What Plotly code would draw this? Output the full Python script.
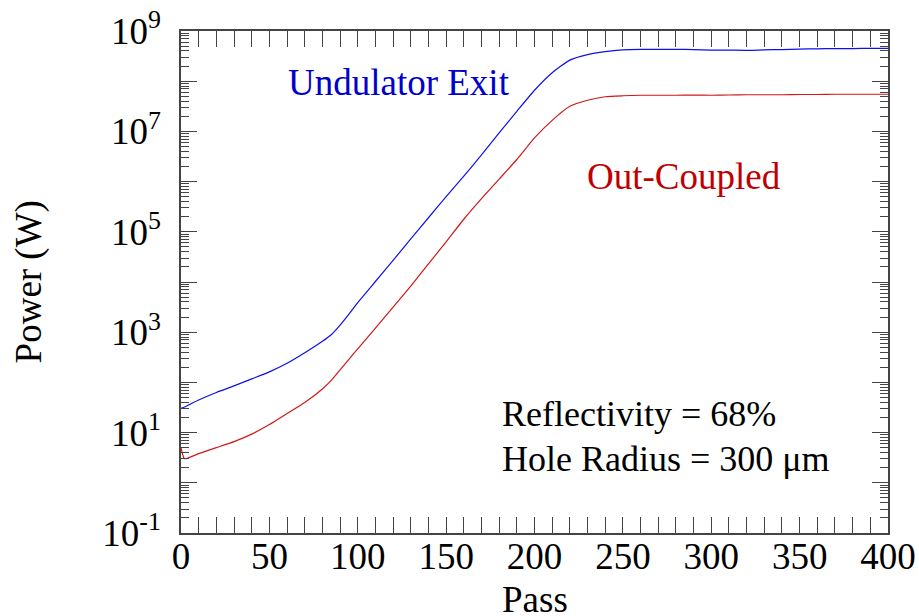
import plotly.graph_objects as go

# Pass numbers at which the power was sampled
passes = [0, 2, 10, 20, 30, 40, 50, 60, 70, 80, 85, 90, 95, 100, 110, 120, 130,
          140, 150, 160, 170, 180, 190, 200, 210, 220, 230, 240, 250, 260, 270,
          280, 290, 300, 310, 320, 330, 340, 350, 360, 370, 380, 390, 400]

# log10 of power (W) at the undulator exit
exit_log10 = [1.48, 1.51, 1.65, 1.80, 1.93, 2.07, 2.21, 2.38, 2.59, 2.82, 2.95,
              3.14, 3.36, 3.59, 4.01, 4.43, 4.86, 5.28, 5.70, 6.11, 6.53, 6.97,
              7.40, 7.82, 8.17, 8.42, 8.53, 8.59, 8.625, 8.635, 8.635, 8.635,
              8.63, 8.62, 8.62, 8.615, 8.625, 8.63, 8.64, 8.645, 8.65, 8.65,
              8.655, 8.655]

# log10 of out-coupled power (W)
out_log10 = [0.70, 0.48, 0.58, 0.70, 0.82, 0.97, 1.16, 1.38, 1.60, 1.87, 2.04,
             2.25, 2.46, 2.67, 3.08, 3.50, 3.92, 4.36, 4.80, 5.25, 5.66, 6.05,
             6.44, 6.87, 7.22, 7.50, 7.62, 7.69, 7.71, 7.72, 7.72, 7.72, 7.725,
             7.72, 7.725, 7.73, 7.73, 7.73, 7.735, 7.735, 7.74, 7.74, 7.74, 7.74]

exit_power = [10 ** v for v in exit_log10]
out_power = [10 ** v for v in out_log10]

# Odd decades carry a label, even decades only a long tick
labelled = [-1, 1, 3, 5, 7, 9]
unlabelled = [0, 2, 4, 6, 8]
y_tickvals = [10.0 ** k for k in labelled]
y_ticktext = [f"10<sup>{k}</sup>" for k in labelled]
y_plain_ticks = [10.0 ** k for k in unlabelled]
y_minor = [m * 10.0 ** k for k in range(-1, 9) for m in range(2, 10)]

FONT = "Liberation Serif, Times New Roman, serif"
AXIS_COLOR = "#444444"

fig = go.Figure()
fig.add_trace(go.Scatter(x=passes, y=exit_power, mode="lines",
                         line=dict(color="#1010e8", width=1.2, shape="spline", smoothing=0.5),
                         name="Undulator Exit", showlegend=False))
fig.add_trace(go.Scatter(x=passes, y=out_power, mode="lines",
                         line=dict(color="#d01818", width=1.2, shape="spline", smoothing=0.5),
                         name="Out-Coupled", showlegend=False))
# invisible carrier so the overlaid decade-tick axis is drawn
fig.add_trace(go.Scatter(x=[passes[0]], y=[exit_power[0]], yaxis="y2", mode="markers",
                         marker=dict(opacity=0), hoverinfo="skip", showlegend=False))

axis_common = dict(showline=True, linecolor=AXIS_COLOR, linewidth=1.5,
                   ticks="inside", tickcolor=AXIS_COLOR, tickwidth=1.3,
                   mirror="allticks", showgrid=False, zeroline=False,
                   automargin=False,
                   tickfont=dict(family=FONT, size=37, color="black"))

fig.update_xaxes(range=[0, 400], tickmode="linear", tick0=0, dtick=50, ticklen=16,
                 ticklabelstandoff=-10,
                 minor=dict(ticks="inside", ticklen=8, dtick=10, tickcolor=AXIS_COLOR,
                            tickwidth=1.1, showgrid=False),
                 **axis_common)
fig.update_layout(yaxis=dict(type="log", range=[-1, 9], tickmode="array",
                             tickvals=y_tickvals, ticktext=y_ticktext, ticklen=16,
                             ticklabelstandoff=11,
                             minor=dict(ticks="inside", ticklen=8, tickmode="array",
                                        tickvals=y_minor, tickcolor=AXIS_COLOR,
                                        tickwidth=1.1, showgrid=False),
                             **axis_common),
                  yaxis2=dict(type="log", range=[-1, 9], overlaying="y", side="left",
                              tickmode="array", tickvals=y_plain_ticks, ticklen=16,
                              showticklabels=False, showline=False, ticks="inside",
                              tickcolor=AXIS_COLOR, tickwidth=1.3, mirror="allticks",
                              showgrid=False, zeroline=False, automargin=False))

# Axis titles
fig.add_annotation(text="Pass", x=0.5, y=-0.1315, xref="paper", yref="paper",
                   xanchor="center", yanchor="middle", showarrow=False,
                   font=dict(family=FONT, size=37, color="black"))
fig.add_annotation(text="Power (W)", x=-0.2144, y=0.5, xref="paper", yref="paper",
                   xanchor="center", yanchor="middle", textangle=-90, showarrow=False,
                   font=dict(family=FONT, size=37, color="black"))

labels = [
    ("Undulator Exit", 0.149, 0.898, "#0000cc", 37),
    ("Out-Coupled", 0.571, 0.711, "#c00000", 37),
    ("Reflectivity = 68%", 0.451, 0.237, "black", 36),
    ("Hole Radius = 300 \u03bcm", 0.451, 0.148, "black", 36),
]
for text, px, py, color, size in labels:
    fig.add_annotation(text=text, x=px, y=py, xref="paper", yref="paper",
                       xanchor="left", yanchor="middle", showarrow=False,
                       font=dict(family=FONT, size=size, color=color))

fig.update_layout(width=919, height=616,
                  margin=dict(l=181, r=31, t=31, b=83),
                  paper_bgcolor="white", plot_bgcolor="white",
                  font=dict(family=FONT))

fig.write_html("out.html")
